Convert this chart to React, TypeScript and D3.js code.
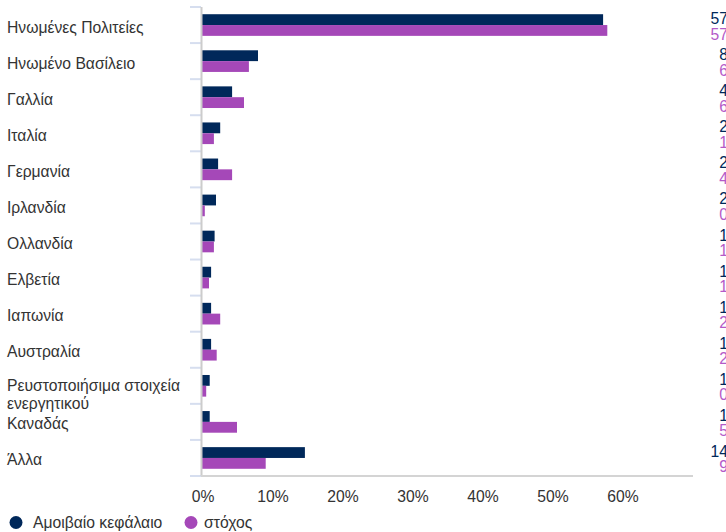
import React from "react";
import * as d3 from "d3";

const categories = [
  "Ηνωμένες Πολιτείες",
  "Ηνωμένο Βασίλειο",
  "Γαλλία",
  "Ιταλία",
  "Γερμανία",
  "Ιρλανδία",
  "Ολλανδία",
  "Ελβετία",
  "Ιαπωνία",
  "Αυστραλία",
  "Ρευστοποιήσιμα στοιχεία|ενεργητικού",
  "Καναδάς",
  "Άλλα",
];
const fundValues = [57.3, 8.0, 4.3, 2.6, 2.3, 2.0, 1.8, 1.3, 1.3, 1.3, 1.1, 1.1, 14.7];
const targetValues = [57.9, 6.7, 6.0, 1.7, 4.3, 0.4, 1.7, 1.0, 2.6, 2.1, 0.6, 5.0, 9.1];
const xTicks = [0, 10, 20, 30, 40, 50, 60];
const seriesNames = ["Αμοιβαίο κεφάλαιο", "στόχος"];

const W = 726;
const H = 532;
const NAVY = "#00285a";
const PURPLE = "#a548b8";
const PURPLE_TXT = "#b45ac8";
const TEXT = "#333333";
const FONT = "'Liberation Sans', Arial, Helvetica, sans-serif";
const FS = 15.7;

export default function App() {
  const x = d3.scaleLinear().domain([0, 70]).range([202, 692]);
  const y = d3.scaleBand<number>().domain(d3.range(categories.length)).range([7, 476]).paddingInner(0.4).paddingOuter(0.2);
  const band = d3.scaleBand<number>().domain(d3.range(categories.length)).range([7, 476]);
  const sub = d3.scaleBand<number>().domain([0, 1]).range([0, y.bandwidth()]);
  const fmt = (v: number) => v.toFixed(1) + "%";

  return (
    <svg width={W} height={H} style={{ position: "absolute", left: 0, top: 0 }} fontFamily={FONT}>
      {/* category boundary ticks */}
      {d3.range(categories.length + 1).map((i) => {
        const yy = i < categories.length ? band(i)! : band(categories.length - 1)! + band.bandwidth();
        return <line key={"t" + i} x1={190} x2={201} y1={yy} y2={yy} stroke="#d6deef" strokeWidth={2} />;
      })}
      {/* bars */}
      {categories.map((c, i) => (
        <g key={c}>
          <rect x={x(0)} y={y(i)! + sub(0)!} width={x(fundValues[i]) - x(0)} height={sub.bandwidth()} fill={NAVY} />
          <rect x={x(0)} y={y(i)! + sub(1)!} width={x(targetValues[i]) - x(0)} height={sub.bandwidth()} fill={PURPLE} />
        </g>
      ))}
      {/* axes lines */}
      <line x1={201.5} x2={201.5} y1={7} y2={476} stroke="#cccccc" strokeWidth={2} />
      <line x1={201} x2={x(70) + 1} y1={476} y2={476} stroke="#d4d4d4" strokeWidth={2} />
      {/* category labels */}
      {categories.map((c, i) => {
        const lines = c.split("|");
        const cy = band(i)! + band.bandwidth() / 2 + 1.5;
        return (
          <text key={"l" + i} x={7} y={cy} fontSize={FS} fill={TEXT} dominantBaseline="central">
            {lines.map((ln, k) => (
              <tspan key={k} x={7} dy={k === 0 ? (lines.length > 1 ? -2 : 0) : 17.5}>
                {ln}
              </tspan>
            ))}
          </text>
        );
      })}
      {/* value labels (clipped at right edge) */}
      {categories.map((c, i) => {
        const cy = band(i)! + band.bandwidth() / 2;
        return (
          <g key={"v" + i}>
            <text x={755} y={cy - 6.5} textAnchor="end" fontSize={FS} fill={NAVY} dominantBaseline="central">
              {fmt(fundValues[i])}
            </text>
            <text x={755} y={cy + 9} textAnchor="end" fontSize={FS} fill={PURPLE_TXT} dominantBaseline="central">
              {fmt(targetValues[i])}
            </text>
          </g>
        );
      })}
      {/* x tick labels */}
      {xTicks.map((t) => (
        <text key={"x" + t} x={x(t) + 1} y={496} textAnchor="middle" fontSize={FS} fill={TEXT} dominantBaseline="central">
          {t + "%"}
        </text>
      ))}
      {/* legend */}
      <circle cx={16} cy={522.5} r={6.5} fill={NAVY} />
      <text x={33} y={522.5} fontSize={FS} fill={TEXT} dominantBaseline="central">{seriesNames[0]}</text>
      <circle cx={191} cy={522.5} r={6.5} fill={PURPLE} />
      <text x={204} y={522.5} fontSize={FS} fill={TEXT} dominantBaseline="central">{seriesNames[1]}</text>
    </svg>
  );
}
